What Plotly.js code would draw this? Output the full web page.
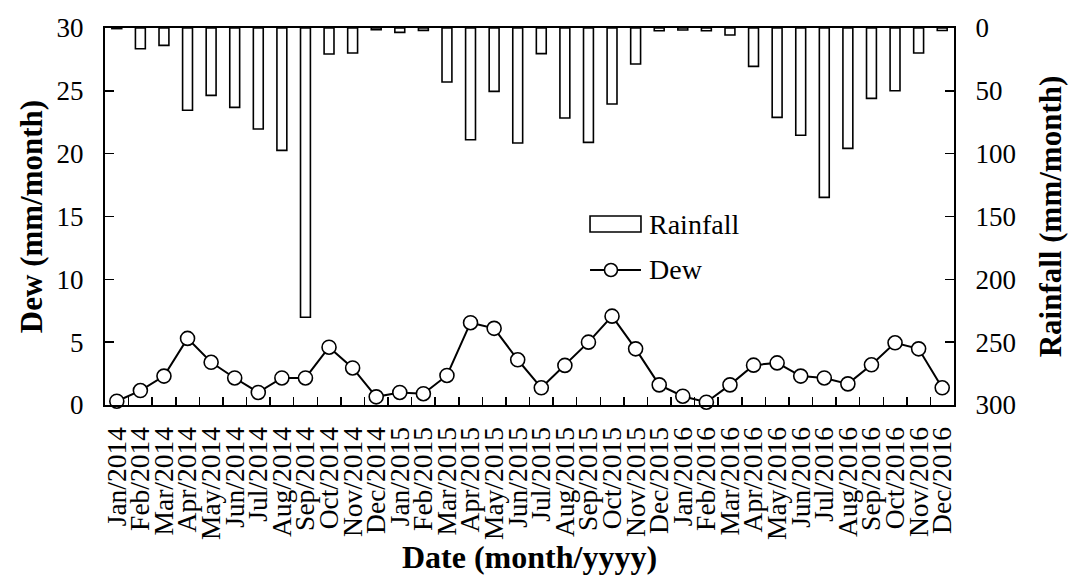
<!DOCTYPE html>
<html>
<head>
<meta charset="utf-8">
<script src="https://cdn.plot.ly/plotly-3.0.1.min.js"></script>
<style>
  html, body { margin: 0; padding: 0; background: #fff; }
  #chart { width: 1074px; height: 575px; }
</style>
</head>
<body>
<div id="chart"></div>
<script>
// Monthly dew yield and rainfall, Jan 2014 – Dec 2016
const months = [
  'Jan/2014','Feb/2014','Mar/2014','Apr/2014','May/2014','Jun/2014',
  'Jul/2014','Aug/2014','Sep/2014','Oct/2014','Nov/2014','Dec/2014',
  'Jan/2015','Feb/2015','Mar/2015','Apr/2015','May/2015','Jun/2015',
  'Jul/2015','Aug/2015','Sep/2015','Oct/2015','Nov/2015','Dec/2015',
  'Jan/2016','Feb/2016','Mar/2016','Apr/2016','May/2016','Jun/2016',
  'Jul/2016','Aug/2016','Sep/2016','Oct/2016','Nov/2016','Dec/2016'
];

// Rainfall (mm/month), plotted downward from the top on the right axis
const rainfall = [
  0.5, 16.5, 13.8, 65.5, 53.6, 63.2, 80.4, 97.4, 230.2, 20.7, 19.9, 1.4,
  3.5, 1.9, 43.0, 88.9, 50.4, 91.5, 20.4, 71.6, 91.0, 60.5, 28.7, 2.2,
  1.6, 2.2, 5.6, 30.5, 71.1, 85.4, 134.8, 95.8, 56.0, 49.9, 19.9, 2.0
];

// Dew (mm/month) on the left axis
const dew = [
  0.3, 1.15, 2.3, 5.3, 3.4, 2.15, 1.0, 2.15, 2.15, 4.6, 2.95, 0.65,
  1.0, 0.9, 2.35, 6.55, 6.1, 3.6, 1.37, 3.15, 5.0, 7.07, 4.47, 1.6,
  0.7, 0.22, 1.6, 3.17, 3.35, 2.3, 2.15, 1.68, 3.2, 4.95, 4.47, 1.37
];

const dewTicks = [0, 5, 10, 15, 20, 25, 30];
const rainTicks = [0, 50, 100, 150, 200, 250, 300];

const FONT = '"Liberation Serif"';

const rainTrace = {
  type: 'bar',
  name: 'Rainfall',
  x: months,
  y: rainfall,
  yaxis: 'y2',
  width: 0.42,
  marker: { color: '#ffffff', line: { color: '#000000', width: 1.6 } },
  showlegend: false,
  hoverinfo: 'x+y'
};

const dewTrace = {
  type: 'scatter',
  mode: 'lines+markers',
  name: 'Dew',
  x: months,
  y: dew,
  yaxis: 'y',
  line: { color: '#000000', width: 2 },
  marker: { symbol: 'circle', size: 14, color: '#ffffff', line: { color: '#000000', width: 1.6 } },
  cliponaxis: false,
  showlegend: false,
  hoverinfo: 'x+y'
};

const layout = {
  width: 1074,
  height: 575,
  margin: { l: 105, r: 120, t: 28, b: 170 },
  paper_bgcolor: '#ffffff',
  plot_bgcolor: '#ffffff',
  font: { family: FONT, color: '#000000', size: 27 },
  xaxis: {
    type: 'category',
    range: [-0.5, months.length - 0.5],
    tickmode: 'array',
    tickvals: months,
    ticktext: months,
    tickson: 'boundaries',
    ticks: 'inside',
    ticklen: 8,
    tickwidth: 1.5,
    tickcolor: '#000000',
    tickangle: -90,
    tickfont: { family: FONT, size: 27.5 },
    ticklabelstandoff: 9,
    showline: true,
    linecolor: '#000000',
    linewidth: 2,
    mirror: true,
    showgrid: false,
    zeroline: false,
    title: { text: '<b>Date (month/yyyy)</b>', font: { family: FONT, size: 32 }, standoff: 2 }
  },
  yaxis: {
    range: [0, 30],
    tickvals: dewTicks,
    ticks: 'inside',
    ticklen: 9,
    tickwidth: 1.5,
    tickcolor: '#000000',
    tickfont: { family: FONT, size: 27 },
    ticklabelstandoff: 14,
    showline: true,
    linecolor: '#000000',
    linewidth: 2,
    showgrid: false,
    zeroline: false,
    title: { text: '<b>Dew (mm/month)</b>', font: { family: FONT, size: 31 }, standoff: 5 }
  },
  yaxis2: {
    overlaying: 'y',
    side: 'right',
    range: [300, 0],
    tickvals: rainTicks,
    ticks: 'inside',
    ticklen: 9,
    tickwidth: 1.5,
    tickcolor: '#000000',
    tickfont: { family: FONT, size: 27 },
    ticklabelstandoff: 14,
    showline: true,
    linecolor: '#000000',
    linewidth: 2,
    showgrid: false,
    zeroline: false,
    title: { text: '<b>Rainfall (mm/month)</b>', font: { family: FONT, size: 31 }, standoff: 24 }
  },
  // Legend key drawn in the plot area
  shapes: [
    { type: 'rect', xref: 'paper', yref: 'paper', x0: 0.5713, x1: 0.6313, y0: 0.4589, y1: 0.5013,
      line: { color: '#000000', width: 1.6 }, fillcolor: '#ffffff' },
    { type: 'line', xref: 'paper', yref: 'paper', x0: 0.5713, x1: 0.6313, y0: 0.3581, y1: 0.3581,
      line: { color: '#000000', width: 2 } },
    { type: 'circle', xref: 'paper', yref: 'paper', x0: 0.5883, x1: 0.6036, y0: 0.3408, y1: 0.3753,
      line: { color: '#000000', width: 1.6 }, fillcolor: '#ffffff' }
  ],
  annotations: [
    { xref: 'paper', yref: 'paper', x: 0.6384, y: 0.4801, xanchor: 'left', yanchor: 'middle',
      text: 'Rainfall', showarrow: false, font: { family: FONT, size: 28, color: '#000000' } },
    { xref: 'paper', yref: 'paper', x: 0.6384, y: 0.3581, xanchor: 'left', yanchor: 'middle',
      text: 'Dew', showarrow: false, font: { family: FONT, size: 28, color: '#000000' } }
  ]
};

Plotly.newPlot('chart', [rainTrace, dewTrace], layout, { displayModeBar: false, staticPlot: true });
</script>
</body>
</html>
